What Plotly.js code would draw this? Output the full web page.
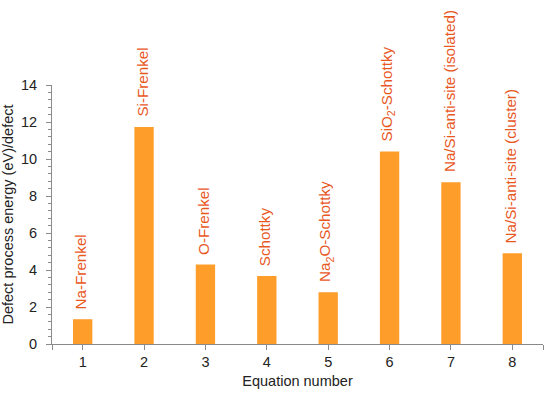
<!DOCTYPE html>
<html>
<head>
<meta charset="utf-8">
<script src="https://cdn.plot.ly/plotly-3.0.1.min.js"></script>
<style>html,body{margin:0;padding:0;background:#fff;}#chart{width:550px;height:398px;}</style>
</head>
<body>
<div id="chart"></div>
<script>
const equations = [1, 2, 3, 4, 5, 6, 7, 8];
const energies = [1.34, 11.73, 4.30, 3.68, 2.80, 10.41, 8.75, 4.91];
const labels = ['Na-Frenkel', 'Si-Frenkel', 'O-Frenkel', 'Schottky', 'Na<sub>2</sub>O-Schottky', 'SiO<sub>2</sub>-Schottky', 'Na/Si-anti-site (isolated)', 'Na/Si-anti-site (cluster)'];
const tickVals = [1, 2, 3, 4, 5, 6, 7, 8];
const tickText = ['1', '2', '3', '4', '5', '6', '7', '8'];
const yTicks = [0, 2, 4, 6, 8, 10, 12, 14];

const font = 'Liberation Sans, Arial, sans-serif';
const trace = {
  type: 'bar', x: equations, y: energies, width: 0.315,
  marker: {color: '#FF9D2A', line: {width: 0}},
  hoverinfo: 'none'
};
const annotations = equations.map((e, i) => ({
  x: e, y: energies[i], xref: 'x', yref: 'y', text: labels[i],
  textangle: -90, showarrow: false, xanchor: 'center', yanchor: 'bottom',
  yshift: 8, xshift: -2, font: {family: font, size: 15.2, color: '#E8571E'}
}));
const layout = {
  width: 550, height: 398,
  margin: {l: 52, r: 7, t: 85, b: 54},
  paper_bgcolor: '#fff', plot_bgcolor: '#fff',
  showlegend: false,
  font: {family: font, size: 14.5, color: '#222'},
  xaxis: {
    range: [0.5, 8.5], tickmode: 'array', tickvals: tickVals, ticktext: tickText,
    showgrid: false, zeroline: false, showline: true, linecolor: '#8a8a8a', linewidth: 1,
    ticks: 'outside', ticklen: 5, tickcolor: '#8a8a8a',
    minor: {tick0: 0.5, dtick: 8, ticks: 'outside', ticklen: 5, tickcolor: '#8a8a8a', showgrid: false},
    title: {text: 'Equation number', font: {family: font, size: 14.5, color: '#222'}, standoff: 6}
  },
  yaxis: {
    range: [0, 14], tickmode: 'array', tickvals: yTicks,
    showgrid: false, zeroline: false, showline: true, linecolor: '#8a8a8a', linewidth: 1,
    ticks: 'outside', ticklen: 5, tickcolor: '#8a8a8a', ticklabelstandoff: 6,
    minor: {dtick: 0.4, ticks: 'outside', ticklen: 3, tickcolor: '#8a8a8a', showgrid: false},
    title: {text: 'Defect process energy (eV)/defect', font: {family: font, size: 14.5, color: '#222'}, standoff: 8}
  },
  annotations: annotations
};
Plotly.newPlot('chart', [trace], layout, {staticPlot: true, displayModeBar: false});
</script>
</body>
</html>
